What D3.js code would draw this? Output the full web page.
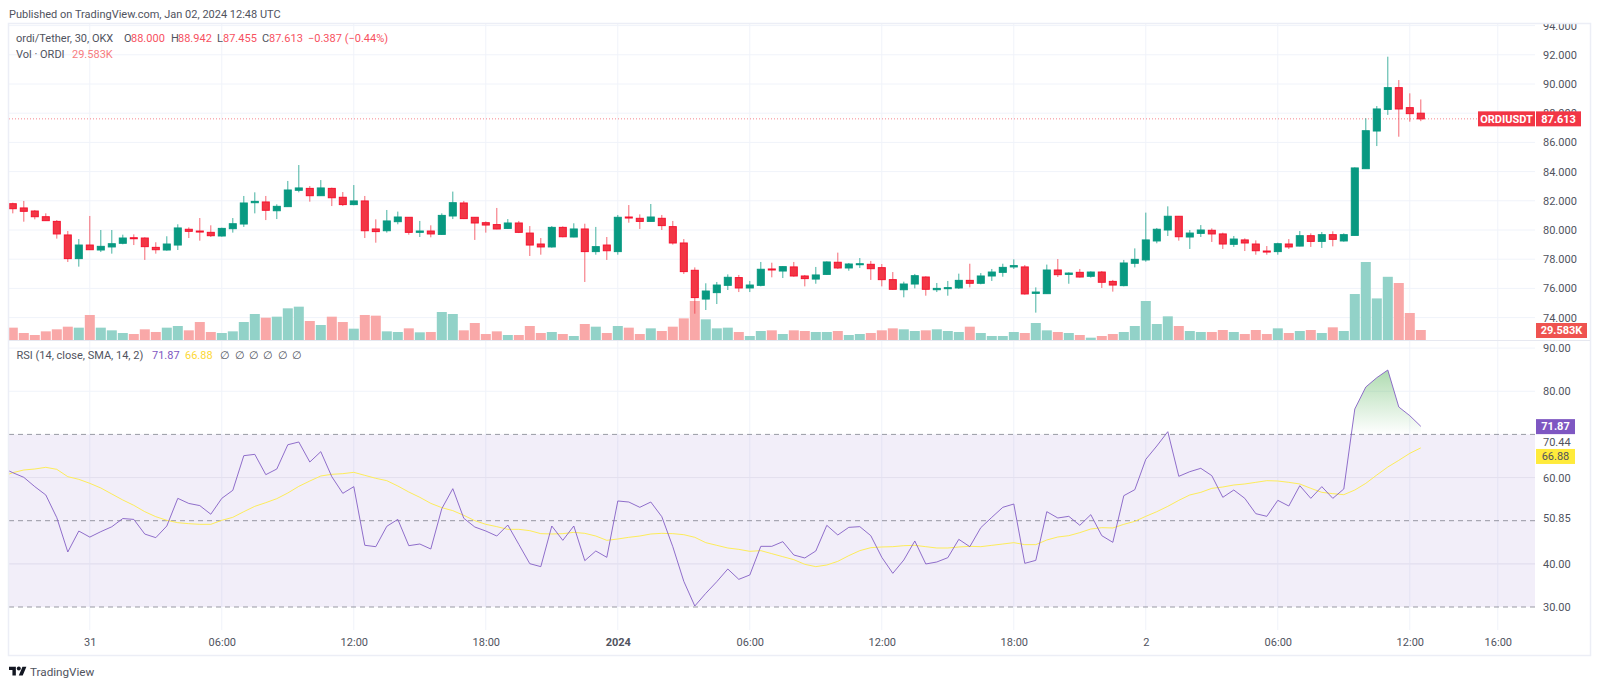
<!DOCTYPE html>
<html>
<head>
<meta charset="utf-8">
<style>
  html, body { margin: 0; background: #fff; }
  svg { display: block; }
  text { font-family: Roboto, "Liberation Sans", sans-serif; }
  .tick line, .domain { display: none; }
</style>
<script src="https://cdn.jsdelivr.net/npm/d3@7"></script>
</head>
<body>
<div id="chart"></div>
<script>
// values, one candle per 30 minutes
const opens = [
  81.80,81.51,81.30,80.91,80.59,79.66,78.04,78.97,78.63,78.84,
  79.09,79.47,79.45,78.81,78.63,78.97,80.05,79.93,79.84,79.59,
  80.09,80.41,81.87,81.92,81.32,81.60,82.72,82.85,82.35,82.85,
  82.24,81.74,81.99,80.07,79.95,80.57,80.87,79.84,79.93,79.70,
  80.96,81.85,80.87,80.50,80.37,80.11,80.48,79.79,79.04,78.84,
  80.18,79.52,80.07,78.52,78.97,78.52,80.89,80.80,80.59,80.80,
  80.23,79.11,77.24,75.27,75.71,76.21,76.74,76.03,76.21,77.33,
  77.19,77.47,76.85,76.64,76.96,77.79,77.40,77.65,77.65,77.42,
  76.60,75.91,76.30,76.78,75.91,75.98,76.03,76.55,76.35,76.85,
  77.10,77.47,77.47,75.66,75.64,77.26,76.96,77.10,76.83,77.12,
  76.48,76.19,77.72,77.95,79.25,80.00,80.94,79.52,79.77,79.98,
  79.73,79.02,79.32,79.04,78.56,78.52,79.04,78.90,79.61,79.22,
  79.68,79.25,79.63,84.20,86.78,88.26,89.75,88.38,88.00
];
const closes = [
  81.46,81.28,80.91,80.64,79.73,78.04,78.97,78.65,78.88,79.06,
  79.45,79.41,78.86,78.65,79.04,80.14,79.91,79.86,79.61,80.11,
  80.43,81.85,81.96,81.35,81.62,82.74,82.88,82.35,82.88,82.21,
  81.74,81.99,79.95,79.89,80.62,80.89,79.84,79.93,79.73,81.00,
  81.87,80.78,80.48,80.34,80.07,80.48,79.84,78.97,78.84,80.18,
  79.54,80.07,78.52,78.86,78.58,80.87,80.82,80.59,80.89,80.30,
  79.11,77.15,75.37,75.82,76.23,76.76,76.03,76.23,77.31,77.28,
  77.49,76.85,76.67,76.92,77.81,77.40,77.67,77.69,77.35,76.60,
  75.94,76.30,76.87,75.94,76.00,76.05,76.55,76.35,76.85,77.12,
  77.44,77.56,75.62,75.75,77.26,76.94,77.05,76.78,77.12,76.42,
  76.23,77.74,77.99,79.32,80.05,80.94,79.54,79.79,80.00,79.73,
  79.04,79.38,79.11,78.58,78.49,79.06,78.84,79.61,79.22,79.68,
  79.36,79.68,84.25,86.80,88.29,89.75,88.29,87.97,87.613
];
const highs = [
  81.87,81.99,81.37,81.14,80.68,79.93,79.38,80.96,80.00,80.00,
  79.68,79.70,79.50,79.16,79.57,80.39,80.18,80.82,80.32,80.16,
  80.82,82.33,82.58,82.33,81.76,83.36,84.45,83.01,83.42,82.90,
  82.60,83.08,82.33,80.73,81.37,81.26,80.89,80.62,80.32,81.14,
  82.63,81.99,80.89,80.59,81.51,80.75,80.62,80.27,79.45,80.27,
  80.25,80.46,80.43,80.21,79.52,81.03,81.71,81.07,81.78,81.03,
  80.62,79.38,77.44,76.35,76.44,76.96,76.92,76.51,77.81,77.76,
  77.53,77.81,76.92,77.47,77.85,78.45,77.74,78.08,77.88,77.67,
  77.12,76.46,76.99,76.83,76.37,76.51,77.01,77.69,77.05,77.33,
  77.69,77.99,77.60,76.07,77.63,78.01,77.10,77.33,77.17,77.19,
  76.58,77.95,78.74,81.19,80.14,81.62,80.96,80.00,80.34,80.11,
  79.82,79.59,79.43,79.29,78.90,79.13,79.38,79.93,79.77,79.86,
  79.91,79.77,84.29,87.65,88.49,91.87,90.27,89.36,88.942
];
const lows = [
  81.14,80.57,80.73,80.62,79.41,77.81,77.49,78.63,78.49,78.38,
  79.02,78.97,77.95,78.38,78.58,78.63,79.45,79.27,79.52,79.54,
  79.82,80.21,81.14,80.68,80.75,81.58,82.58,81.94,82.33,81.64,
  81.64,81.69,79.45,79.13,79.82,80.39,79.68,79.52,79.50,79.66,
  80.75,80.75,79.32,79.82,80.05,80.07,79.79,78.22,78.31,78.79,
  79.50,79.50,76.44,78.31,77.95,78.31,80.50,80.07,80.57,80.00,
  79.00,76.99,74.27,74.52,74.93,75.89,75.75,75.75,76.14,76.76,
  76.71,76.80,76.14,76.32,76.92,77.33,77.21,77.40,76.58,76.14,
  75.91,75.39,76.00,75.50,75.75,75.50,75.96,76.07,76.28,76.51,
  76.80,77.33,75.57,74.34,75.62,76.78,76.32,76.74,76.74,76.03,
  75.78,76.14,77.44,77.83,79.09,79.59,79.27,78.70,79.52,79.18,
  78.70,78.84,78.56,78.31,78.31,78.31,78.70,78.88,78.84,78.77,
  78.88,79.20,79.63,84.20,85.75,87.88,86.39,87.42,87.455
];
// thousands of ORDI
const volumes = [
  36.5,20.7,14.8,25.6,31.6,39.4,36.5,74,36.5,28.6,
  20.7,17.7,31.6,23.7,36.5,41.4,28.6,53.2,23.7,20.7,
  25.6,53.2,76.9,66,69,93.7,98.6,56.2,44.4,69,
  53.2,33.5,74,72,25.6,23.7,34.5,22.7,23.7,82.8,
  76.9,28.6,50.3,17.7,25.6,14.8,14.8,41.4,20.7,23.7,
  17.7,11.8,47.3,39.4,20.7,41.4,36.5,17.7,34.5,26.6,
  39.4,64,115.4,61.1,34.5,36.5,23.7,11.8,26.6,28.6,
  17.7,28.6,26.6,23.7,23.7,26.6,14.8,17.7,20.7,28.6,
  34.5,31.6,26.6,28.6,31.6,26.6,23.7,39.4,20.7,11.8,
  11.8,23.7,20.7,50.3,28.6,23.7,20.7,14.8,6.9,11.8,
  17.7,23.7,41.4,115.4,47.3,70,41.4,26.6,23.7,23.7,
  29.6,23.7,17.7,29.6,17.7,34.5,20.7,26.6,29.6,20.7,
  37.5,26.6,136,230.7,123,187,168.6,79.9,29.583
];
// rsi series start one candle earlier, that point is cut off by the left edge
const rsiValues = [
  62.3,61.13,60.05,57.89,55.96,50.7,42.75,47.6,46.2,47.46,48.6,
  50.5,50.3,46.9,46.07,48.77,55.18,54.0,53.5,51.5,55.18,
  57.04,65.07,65.38,60.67,61.98,67.6,68.24,63.6,66.0,60.2,
  56.34,57.89,44.3,43.98,48.7,50.3,44.21,44.6,43.44,52.79,
  57.42,50.55,48.54,47.61,46.45,49.0,44.52,40.04,39.35,48.77,
  45.45,48.77,40.74,42.98,41.51,54.57,54.33,53.1,54.33,50.93,
  43.98,35.95,30.23,33.17,35.87,38.81,36.41,37.42,44.06,44.06,
  45.14,42.05,41.36,42.98,48.93,46.69,48.46,48.62,46.53,41.51,
  37.8,40.89,45.3,39.97,40.43,41.43,45.68,43.98,48.39,50.78,
  53.1,53.87,40.12,40.81,52.09,50.63,51.01,48.93,51.4,46.53,
  44.99,55.8,57.19,64.22,67.31,70.63,60.28,61.36,62.14,60.44,
  55.42,57.11,55.18,51.63,51.01,54.72,53.4,58.12,55.18,57.89,
  55.18,57.35,75.89,80.98,83.15,84.92,76.35,74.34,71.87
];
const rsiSmaValues = [
  60.2,61.13,61.75,61.98,62.37,61.9,60.2,59.59,58.66,57.58,56.19,
  54.8,53.56,52.09,50.93,50.09,49.54,49.31,49.16,49.16,50.09,
  50.78,52.09,53.33,54.18,55.11,56.42,57.96,59.2,60.36,60.75,
  60.9,61.21,60.51,59.82,59.28,58.04,56.65,55.42,54.02,53.02,
  52.33,51.24,50.01,49.16,48.62,48.0,48.0,47.69,47.0,46.92,
  47.0,47.3,47.07,46.45,45.45,45.76,46.15,46.45,46.92,47.07,
  47.0,46.76,46.15,44.91,44.29,43.67,43.36,42.9,43.06,42.36,
  41.66,40.97,39.89,39.35,39.73,40.58,41.9,43.06,43.75,43.91,
  43.98,44.21,44.29,43.98,43.67,43.67,43.91,44.06,43.98,44.29,
  44.6,44.91,44.45,44.45,45.53,46.22,46.53,47.23,48.08,48.39,
  48.31,49.16,49.85,51.01,52.09,53.33,54.72,55.96,56.57,57.5,
  57.81,58.27,58.51,58.89,59.28,59.2,58.89,58.51,57.5,56.57,
  56.27,56.03,57.11,58.66,60.59,62.44,63.99,65.61,66.88
];
const priceTicks = [74, 76, 78, 80, 82, 84, 86, 88, 90, 92, 94];
const rsiGridTicks = [40, 60, 80, 90];
const rsiLevels = [30, 50, 70];
const rsiTickLabels = ["30.00", "40.00", "50.85", "60.00", "70.44", "80.00", "90.00"];
const rsiLabelTicks = [30, 40, 50, 60, 70, 80, 90];
const timeTickIndex = [7, 19, 31, 43, 55, 67, 79, 91, 103, 115, 127, 135];
const timeTickLabels = ["31", "06:00", "12:00", "18:00", "2024", "06:00", "12:00", "18:00", "2", "06:00", "12:00", "16:00"];

const width = 1600, height = 688;
const frame = { left: 9, right: 1590, top: 24, bottom: 655 };
const plotRight = 1535, plotBottom = 630, volBottom = 340;
const upColor = "#089981", downColor = "#f23645";
const textColor = "#50535e", gridColor = "#f0f3fa";
const fontSize = "11px";

const x = d3.scaleLinear().domain([0, 135]).range([12.8, 1497.8]);
const yPrice = d3.scaleLinear().domain([80, 92]).range([230, 54.8]);
const yVol = d3.scaleLinear().domain([0, 29.583]).range([volBottom, 330]);
const yRsi = d3.scaleLinear().domain([30, 90]).range([607, 348.1]);

const svg = d3.select("#chart").append("svg").attr("width", width).attr("height", height);
const defs = svg.append("defs");
defs.append("clipPath").attr("id", "plotClip").append("rect")
  .attr("x", frame.left).attr("y", frame.top).attr("width", plotRight - frame.left).attr("height", plotBottom - frame.top);
defs.append("clipPath").attr("id", "priceAxisClip").append("rect")
  .attr("x", plotRight).attr("y", frame.top).attr("width", frame.right - plotRight).attr("height", volBottom - frame.top);
defs.append("clipPath").attr("id", "aboveClip").append("rect")
  .attr("x", frame.left).attr("y", frame.top).attr("width", plotRight - frame.left).attr("height", yRsi(70) - frame.top);

const overGrad = defs.append("linearGradient").attr("id", "overbought")
  .attr("gradientUnits", "userSpaceOnUse").attr("x1", 0).attr("x2", 0).attr("y1", yRsi(85)).attr("y2", yRsi(70));
overGrad.append("stop").attr("offset", "0%").attr("stop-color", "#4caf50").attr("stop-opacity", 0.45);
overGrad.append("stop").attr("offset", "100%").attr("stop-color", "#4caf50").attr("stop-opacity", 0);

const plot = svg.append("g").attr("clip-path", "url(#plotClip)");

// grid
plot.append("g").selectAll("line").data(timeTickIndex).enter().append("line")
  .attr("x1", d => x(d)).attr("x2", d => x(d)).attr("y1", frame.top).attr("y2", plotBottom)
  .attr("stroke", gridColor);
plot.append("g").selectAll("line").data(priceTicks).enter().append("line")
  .attr("x1", frame.left).attr("x2", plotRight).attr("y1", d => yPrice(d)).attr("y2", d => yPrice(d))
  .attr("stroke", gridColor);
plot.append("g").selectAll("line").data(rsiGridTicks).enter().append("line")
  .attr("x1", frame.left).attr("x2", plotRight).attr("y1", d => yRsi(d)).attr("y2", d => yRsi(d))
  .attr("stroke", gridColor);

// last price line
plot.append("line")
  .attr("x1", frame.left).attr("x2", plotRight)
  .attr("y1", yPrice(87.613)).attr("y2", yPrice(87.613))
  .attr("stroke", downColor).attr("stroke-opacity", 0.6).attr("stroke-dasharray", "1 2");

// volume
plot.append("g").selectAll("rect").data(volumes).enter().append("rect")
  .attr("x", (d, i) => x(i) - 5)
  .attr("width", 10)
  .attr("y", d => yVol(d))
  .attr("height", d => volBottom - yVol(d))
  .attr("fill", (d, i) => closes[i] >= opens[i] ? "#92d2c8" : "#f9a8a8");

// wicks and candle bodies
const candles = plot.append("g").selectAll("g").data(opens).enter().append("g");
candles.append("line")
  .attr("x1", (d, i) => x(i)).attr("x2", (d, i) => x(i))
  .attr("y1", (d, i) => yPrice(highs[i])).attr("y2", (d, i) => yPrice(lows[i]))
  .attr("stroke", (d, i) => closes[i] >= opens[i] ? upColor : downColor)
  .attr("stroke-opacity", 0.75);
candles.append("rect")
  .attr("x", (d, i) => x(i) - 3.5)
  .attr("width", 7)
  .attr("y", (d, i) => yPrice(Math.max(d, closes[i])))
  .attr("height", (d, i) => Math.max(1, Math.abs(yPrice(d) - yPrice(closes[i]))))
  .attr("fill", (d, i) => closes[i] >= opens[i] ? upColor : downColor)
  .attr("stroke", (d, i) => closes[i] >= opens[i] ? upColor : "#f5132f");

// rsi band and levels
plot.append("rect")
  .attr("x", frame.left).attr("width", plotRight - frame.left)
  .attr("y", yRsi(70)).attr("height", yRsi(30) - yRsi(70))
  .attr("fill", "#7e57c2").attr("fill-opacity", 0.1);
plot.append("g").selectAll("line").data([40, 60]).enter().append("line")
  .attr("x1", frame.left).attr("x2", plotRight).attr("y1", d => yRsi(d)).attr("y2", d => yRsi(d))
  .attr("stroke", "#e4e0ee");
plot.append("g").selectAll("line").data(rsiLevels).enter().append("line")
  .attr("x1", frame.left).attr("x2", plotRight).attr("y1", d => yRsi(d)).attr("y2", d => yRsi(d))
  .attr("stroke", "#787b86").attr("stroke-opacity", 0.75).attr("stroke-dasharray", "5 4");

// rsi lines
const rsiX = (d, i) => x(i - 1);
plot.append("path").datum(rsiValues)
  .attr("clip-path", "url(#aboveClip)")
  .attr("d", d3.area().x(rsiX).y0(yRsi(70)).y1(d => yRsi(d)))
  .attr("fill", "url(#overbought)");
plot.append("path").datum(rsiSmaValues)
  .attr("d", d3.line().x(rsiX).y(d => yRsi(d)))
  .attr("fill", "none").attr("stroke", "#fdec5a").attr("stroke-width", 1);
plot.append("path").datum(rsiValues)
  .attr("d", d3.line().x(rsiX).y(d => yRsi(d)))
  .attr("fill", "none").attr("stroke", "#7e57c2").attr("stroke-opacity", 0.85).attr("stroke-width", 1);

// axes
const priceAxis = svg.append("g").attr("clip-path", "url(#priceAxisClip)")
  .append("g").attr("transform", `translate(${plotRight},0)`)
  .call(d3.axisRight(yPrice).tickValues(priceTicks).tickSize(0).tickPadding(8).tickFormat(d3.format(".3f")));
priceAxis.selectAll("text").attr("fill", textColor).style("font-size", fontSize);

const rsiAxis = svg.append("g").attr("transform", `translate(${plotRight},0)`)
  .call(d3.axisRight(yRsi).tickValues(rsiLabelTicks).tickSize(0).tickPadding(8)
    .tickFormat((d, i) => rsiTickLabels[i]));
// 70 and 50 labels sit off their level in the picture
rsiAxis.selectAll("text").attr("fill", textColor).style("font-size", fontSize)
  .attr("dy", d => d === 70 ? "0.98em" : d === 50 ? "0.05em" : "0.32em");

const timeAxis = svg.append("g").attr("transform", `translate(0,${plotBottom})`)
  .call(d3.axisBottom(x).tickValues(timeTickIndex).tickSize(0).tickPadding(8)
    .tickFormat((d, i) => timeTickLabels[i]));
timeAxis.selectAll("text").attr("fill", textColor).style("font-size", fontSize)
  .style("font-weight", (d, i) => timeTickLabels[i] === "2024" ? 700 : 400);

// frame
svg.append("rect")
  .attr("x", frame.left - 0.5).attr("y", frame.top - 0.5)
  .attr("width", frame.right - frame.left + 1).attr("height", frame.bottom - frame.top + 1)
  .attr("fill", "none").attr("stroke", "#eceef6").attr("stroke-width", 1.5);
svg.append("line")
  .attr("x1", frame.left).attr("x2", frame.right).attr("y1", volBottom + 0.5).attr("y2", volBottom + 0.5)
  .attr("stroke", "#e6e8f0");

// price badges
function badge(xLeft, xRight, yMid, fill, color, label, weight) {
  svg.append("rect")
    .attr("x", xLeft).attr("y", yMid - 7.5).attr("width", xRight - xLeft).attr("height", 15)
    .attr("fill", fill);
  svg.append("text")
    .attr("x", (xLeft + xRight) / 2).attr("y", yMid).attr("dy", "0.35em")
    .attr("text-anchor", "middle").attr("fill", color)
    .style("font-size", fontSize).style("font-weight", weight)
    .text(label);
}
badge(1478, 1535, yPrice(87.613), downColor, "#fff", "ORDIUSDT", 700);
badge(1536, 1581, yPrice(87.613), downColor, "#fff", "87.613", 700);
badge(1536, 1587, 330.5, "#ef5350", "#fff", "29.583K", 700);
badge(1536, 1575, yRsi(71.87) + 0.3, "#7e57c2", "#fff", "71.87", 700);
badge(1536, 1575, yRsi(66.88) + 8.6, "#ffeb3b", "#50535e", "66.88", 400);

// legends
function legendRow(yMid, parts) {
  parts.forEach(p => svg.append("text")
    .attr("x", p[2]).attr("y", yMid).attr("dy", "0.35em")
    .attr("fill", p[1]).style("font-size", fontSize)
    .text(p[0]));
}
const red = "#f7525f";
svg.append("text").attr("x", 9).attr("y", 13.7).attr("dy", "0.35em").attr("fill", textColor)
  .style("font-size", fontSize).text("Published on TradingView.com, Jan 02, 2024 12:48 UTC");
legendRow(38, [
  ["ordi/Tether, 30, OKX", textColor, 16],
  ["O", textColor, 124], ["88.000", red, 131],
  ["H", textColor, 171], ["88.942", red, 178],
  ["L", textColor, 217], ["87.455", red, 223],
  ["C", textColor, 262], ["87.613", red, 269],
  ["\u22120.387 (\u22120.44%)", red, 308]
]);
legendRow(53.7, [["Vol \u00b7 ORDI", textColor, 16], ["29.583K", "#f77c80", 72]]);
legendRow(355, [
  ["RSI (14, close, SMA, 14, 2)", textColor, 16.5],
  ["71.87", "#7e57c2", 152],
  ["66.88", "#fdd835", 185],
  ["\u2205", textColor, 220], ["\u2205", textColor, 234.5], ["\u2205", textColor, 249],
  ["\u2205", textColor, 263], ["\u2205", textColor, 277.5], ["\u2205", textColor, 291.5]
]);

// footer
svg.append("g").attr("transform", "translate(9,664.7) scale(0.49)")
  .append("path")
  .attr("d", "M14 22H7V11H0V4h14v18zM28 22h-8l7.5-18h8L28 22z")
  .attr("fill", "#131722");
svg.append("circle").attr("cx", 18.8).attr("cy", 668.6).attr("r", 2).attr("fill", "#131722");
svg.append("text").attr("x", 30).attr("y", 671.7).attr("dy", "0.35em").attr("fill", textColor)
  .style("font-size", "11.7px").text("TradingView");
</script>
</body>
</html>
